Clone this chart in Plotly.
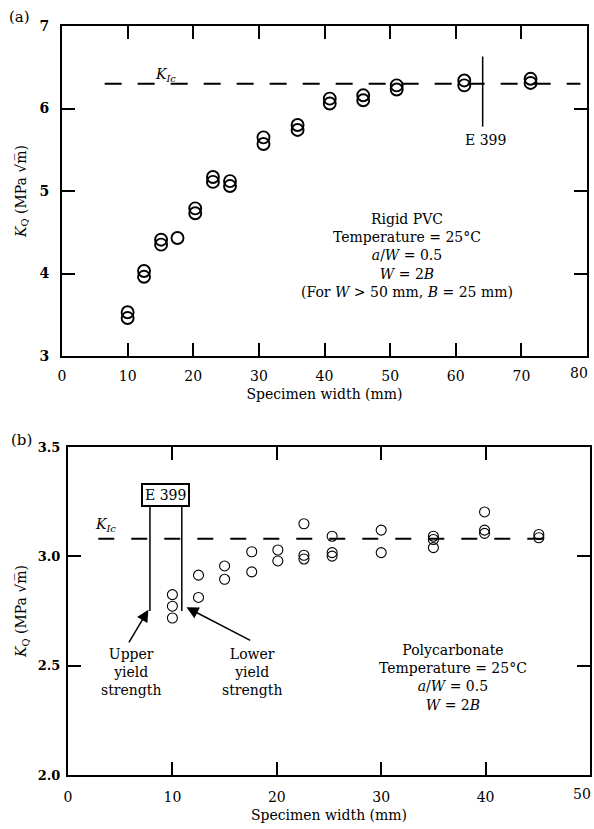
import plotly.graph_objects as go

# ---------------- data (a) Rigid PVC ----------------
width_a = [10.0, 10.0, 12.5, 12.5, 15.1, 15.1, 17.6, 20.3, 20.3, 23.0, 23.0, 25.6, 25.6,
           30.7, 30.7, 35.9, 35.9, 40.8, 40.8, 45.9, 45.9, 51.0, 51.0, 61.3, 61.3, 71.4, 71.4]
kq_a = [3.53, 3.46, 4.03, 3.96, 4.41, 4.35, 4.43, 4.79, 4.73, 5.17, 5.11, 5.12, 5.06,
        5.65, 5.57, 5.80, 5.74, 6.12, 6.06, 6.16, 6.10, 6.28, 6.23, 6.34, 6.28, 6.36, 6.31]
kic_a = 6.30
kic_a_span = [6.5, 79.0]
e399_a = 64.1
e399_a_span = [5.78, 6.63]

# ---------------- data (b) Polycarbonate ----------------
width_b = [10.0, 10.0, 10.0, 12.5, 12.5, 15.0, 15.0, 17.6, 17.6, 20.1, 20.1,
           22.6, 22.6, 22.6, 25.3, 25.3, 25.3, 30.0, 30.0, 35.0, 35.0, 35.0,
           39.9, 39.9, 39.9, 45.1, 45.1]
kq_b = [2.825, 2.772, 2.718, 2.914, 2.812, 2.956, 2.895, 3.021, 2.929, 3.029, 2.979,
        3.149, 3.005, 2.988, 3.092, 3.017, 3.001, 3.120, 3.017, 3.092, 3.077, 3.040,
        3.203, 3.120, 3.105, 3.100, 3.085]
kic_b = 3.08
kic_b_span = [2.9, 46.8]
e399_b = [7.85, 10.9]
e399_b_span = [2.75, 3.24]

xt_a = [0, 10, 20, 30, 40, 50, 60, 70, 80]
yt_a = [3, 4, 5, 6, 7]
xt_b = [0, 10, 20, 30, 40, 50]
yt_b = [2.0, 2.5, 3.0, 3.5]

FONT = "DejaVu Serif"
W, H = 594, 829

fig = go.Figure()

# (a) points
fig.add_trace(go.Scatter(x=width_a, y=kq_a, mode="markers", xaxis="x", yaxis="y",
                         marker=dict(symbol="circle-open", size=12, color="black",
                                     line=dict(width=1.9, color="black")),
                         showlegend=False, hoverinfo="skip"))
fig.add_trace(go.Scatter(x=kic_a_span, y=[kic_a, kic_a], mode="lines", xaxis="x", yaxis="y",
                         line=dict(color="black", width=2, dash="17px,16px"),
                         showlegend=False, hoverinfo="skip"))
fig.add_trace(go.Scatter(x=[e399_a, e399_a], y=e399_a_span, mode="lines", xaxis="x", yaxis="y",
                         line=dict(color="black", width=1.5),
                         showlegend=False, hoverinfo="skip"))

# (b) points
fig.add_trace(go.Scatter(x=width_b, y=kq_b, mode="markers", xaxis="x2", yaxis="y2",
                         marker=dict(symbol="circle-open", size=10, color="black",
                                     line=dict(width=1.1, color="black")),
                         showlegend=False, hoverinfo="skip"))
fig.add_trace(go.Scatter(x=kic_b_span, y=[kic_b, kic_b], mode="lines", xaxis="x2", yaxis="y2",
                         line=dict(color="black", width=2, dash="16px,17px"),
                         showlegend=False, hoverinfo="skip"))
for xv in e399_b:
    fig.add_trace(go.Scatter(x=[xv, xv], y=e399_b_span, mode="lines", xaxis="x2", yaxis="y2",
                             line=dict(color="black", width=1.5),
                             showlegend=False, hoverinfo="skip"))

axis_common = dict(showline=True, linewidth=2, linecolor="black", mirror="ticks",
                   ticks="inside", ticklen=13, tickwidth=2, tickcolor="black",
                   showgrid=False, zeroline=False, automargin=False,
                   tickfont=dict(family=FONT, size=14, color="black"))
ytick_font = dict(family=FONT, size=14, color="black", weight="bold")
title_font = dict(family=FONT, size=14, color="black")

ytitle = "<i>K</i><sub>Q</sub> (MPa √m\u0305)"

# last x tick label at the right edge is drawn right-aligned (as in the reference)
xtext_a = [str(v) for v in xt_a[:-1]] + [""]
xtext_b = [str(v) for v in xt_b[:-1]] + [""]

fig.update_layout(
    width=W, height=H,
    margin=dict(l=0, r=0, t=0, b=0),
    paper_bgcolor="white", plot_bgcolor="white",
    font=dict(family=FONT, color="black"),
    xaxis=dict(axis_common, domain=[62 / W, 587 / W], range=[0, 80], tickvals=xt_a,
               ticktext=xtext_a, anchor="y", ticklabelstandoff=6,
               title=dict(text="Specimen width (mm)", font=title_font, standoff=6)),
    yaxis=dict(axis_common, domain=[1 - 356 / H, 1 - 26 / H], range=[3, 7], tickvals=yt_a,
               anchor="x", ticklabelstandoff=8, tickfont=ytick_font,
               title=dict(text=ytitle, font=title_font, standoff=10)),
    xaxis2=dict(axis_common, domain=[68 / W, 590 / W], range=[0, 50], tickvals=xt_b,
                ticktext=xtext_b, anchor="y2", ticklabelstandoff=8,
                title=dict(text="Specimen width (mm)", font=title_font, standoff=6)),
    yaxis2=dict(axis_common, domain=[1 - 775 / H, 1 - 447 / H], range=[2.0, 3.5], tickvals=yt_b,
                tickformat=".1f", anchor="x2", ticklabelstandoff=3,
                tickfont=dict(ytick_font, size=13),
                title=dict(text=ytitle, font=title_font, standoff=8)),
)

ann = []
tf = dict(family=FONT, size=14, color="black")
# right-edge tick labels
ann.append(dict(text=str(xt_a[-1]), x=xt_a[-1], y=0, xref="x", yref="y domain",
                xanchor="right", yanchor="top", yshift=-7, xshift=3, showarrow=False,
                font=dict(family=FONT, size=14, color="black")))
ann.append(dict(text=str(xt_b[-1]), x=xt_b[-1], y=0, xref="x2", yref="y2 domain",
                xanchor="right", yanchor="top", yshift=-9, xshift=3, showarrow=False,
                font=dict(family=FONT, size=14, color="black")))
# panel labels
ann.append(dict(text="(a)", x=7 / W, y=1 - 17 / H, xref="paper", yref="paper",
                showarrow=False, xanchor="left", yanchor="middle", font=dict(family=FONT, size=15)))
ann.append(dict(text="(b)", x=9 / W, y=1 - 440 / H, xref="paper", yref="paper",
                showarrow=False, xanchor="left", yanchor="middle", font=dict(family=FONT, size=15)))
# (a) labels
ann.append(dict(text="<i>K</i><sub><i>Ic</i></sub>", x=15.8, y=6.41, xref="x", yref="y",
                showarrow=False, font=tf))
ann.append(dict(text="E 399", x=64.6, y=5.62, xref="x", yref="y", showarrow=False, font=tf))
ann.append(dict(text="Rigid PVC<br>Temperature = 25°C<br><i>a</i>/<i>W</i> = 0.5<br><i>W</i> = 2<i>B</i>"
                     "<br>(For <i>W</i> > 50 mm, <i>B</i> = 25 mm)",
                x=52.6, y=4.22, xref="x", yref="y", showarrow=False, font=tf, align="center"))
# (b) labels
ann.append(dict(text="<i>K</i><sub><i>Ic</i></sub>", x=3.6, y=3.145, xref="x2", yref="y2",
                showarrow=False, font=tf))
ann.append(dict(text="E 399", x=9.35, y=3.28, xref="x2", yref="y2", showarrow=False, font=tf,
                bordercolor="black", borderwidth=2, borderpad=2, bgcolor="white"))
ann.append(dict(text="Upper<br>yield<br>strength", x=6.0, y=2.47, xref="x2", yref="y2",
                showarrow=False, font=tf, align="center"))
ann.append(dict(text="Lower<br>yield<br>strength", x=17.6, y=2.47, xref="x2", yref="y2",
                showarrow=False, font=tf, align="center"))
ann.append(dict(text="", x=7.7, y=2.756, ax=5.75, ay=2.6, xref="x2", yref="y2",
                axref="x2", ayref="y2", showarrow=True, arrowhead=2, arrowsize=1.6,
                arrowwidth=1.5, arrowcolor="black"))
ann.append(dict(text="", x=11.35, y=2.767, ax=17.6, ay=2.612, xref="x2", yref="y2",
                axref="x2", ayref="y2", showarrow=True, arrowhead=2, arrowsize=1.6,
                arrowwidth=1.5, arrowcolor="black"))
ann.append(dict(text="Polycarbonate<br>Temperature = 25°C<br><i>a</i>/<i>W</i> = 0.5<br><i>W</i> = 2<i>B</i>",
                x=36.9, y=2.445, xref="x2", yref="y2", showarrow=False, font=tf, align="center"))

fig.update_layout(annotations=ann)
fig.write_html("out.html")
